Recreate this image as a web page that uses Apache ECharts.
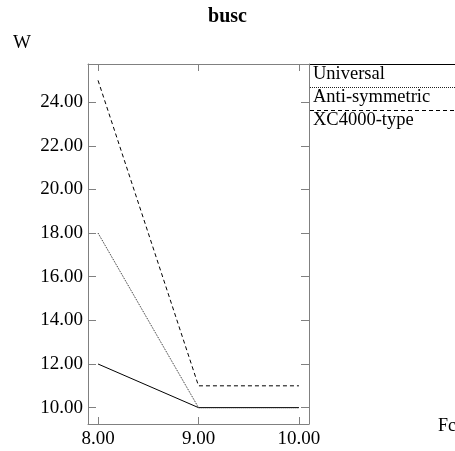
<!DOCTYPE html>
<html><head><meta charset="utf-8">
<script src="https://cdn.jsdelivr.net/npm/echarts@6/dist/echarts.min.js"></script>
<style>html,body{margin:0;padding:0;background:#fff}#c{width:455px;height:451px}</style>
</head><body><div id="c"></div>
<script>
const xValues = [8, 9, 10];
const universal = [12, 10, 10];
const antiSymmetric = [18, 10, 10];
const xc4000 = [25, 11, 11];
const yTicks = [10, 12, 14, 16, 18, 20, 22, 24];
const xTicks = [8, 9, 10];
const seriesNames = ['Universal', 'Anti-symmetric', 'XC4000-type'];

const F = '"Liberation Serif","DejaVu Serif",serif';
const frame = '#808080';
const chart = echarts.init(document.getElementById('c'));
const pair = (arr) => xValues.map((x, i) => [x, arr[i]]);
const fmt = v => Number(v).toFixed(2);

const xBase = {
  type: 'value', min: 7.9, max: 10.1,
  axisLine: { show: true, lineStyle: { color: frame } },
  axisTick: { show: true, inside: true, length: 7, customValues: xTicks, lineStyle: { color: frame } },
  splitLine: { show: false }
};
const yBase = {
  type: 'value', min: 9.25, max: 25.75,
  axisLine: { show: true, lineStyle: { color: frame } },
  axisTick: { show: true, inside: true, length: 8, customValues: yTicks, lineStyle: { color: frame } },
  splitLine: { show: false }
};

chart.setOption({
  animation: false,
  title: { text: 'busc', left: 'center', top: 2, textStyle: { fontFamily: F, fontWeight: 'bold', fontSize: 20, color: '#000' } },
  grid: { left: 88, right: 146, top: 64, bottom: 27 },
  xAxis: [
    Object.assign({}, xBase, { position: 'bottom',
      axisLabel: { show: true, customValues: xTicks, formatter: fmt, fontFamily: F, fontSize: 19, color: '#000', margin: 6 } }),
    Object.assign({}, xBase, { position: 'top', axisLabel: { show: false } })
  ],
  yAxis: [
    Object.assign({}, yBase, { position: 'left',
      axisLabel: { show: true, customValues: yTicks, formatter: fmt, fontFamily: F, fontSize: 19, color: '#000', margin: 5 } }),
    Object.assign({}, yBase, { position: 'right', axisLabel: { show: false } })
  ],
  series: [
    { name: seriesNames[0], type: 'line', data: pair(universal), symbol: 'none', lineStyle: { color: '#000', width: 1, type: 'solid' } },
    { name: seriesNames[1], type: 'line', data: pair(antiSymmetric), symbol: 'none', lineStyle: { color: '#222', width: 1, type: [1, 1] } },
    { name: seriesNames[2], type: 'line', data: pair(xc4000), symbol: 'none', lineStyle: { color: '#000', width: 1, type: [4, 3] } }
  ],
  graphic: [
    { type: 'text', left: 13, top: 34, style: { text: 'W', font: '19px ' + F, fill: '#000' } },
    { type: 'text', left: 438, top: 417, style: { text: 'Fc', font: '18px ' + F, fill: '#000' } },
    { type: 'line', shape: { x1: 310, y1: 64.5, x2: 455, y2: 64.5 }, style: { stroke: '#000', lineWidth: 1 } },
    { type: 'text', left: 313, top: 65, style: { text: seriesNames[0], font: '18.5px ' + F, fill: '#000' } },
    { type: 'line', shape: { x1: 310, y1: 87.5, x2: 455, y2: 87.5 }, style: { stroke: '#222', lineWidth: 1, lineDash: [1, 1] } },
    { type: 'text', left: 313, top: 88, style: { text: seriesNames[1], font: '18.5px ' + F, fill: '#000' } },
    { type: 'line', shape: { x1: 310, y1: 110.5, x2: 455, y2: 110.5 }, style: { stroke: '#000', lineWidth: 1, lineDash: [4, 3] } },
    { type: 'text', left: 313, top: 111, style: { text: seriesNames[2], font: '18.5px ' + F, fill: '#000' } }
  ]
});
</script></body></html>
